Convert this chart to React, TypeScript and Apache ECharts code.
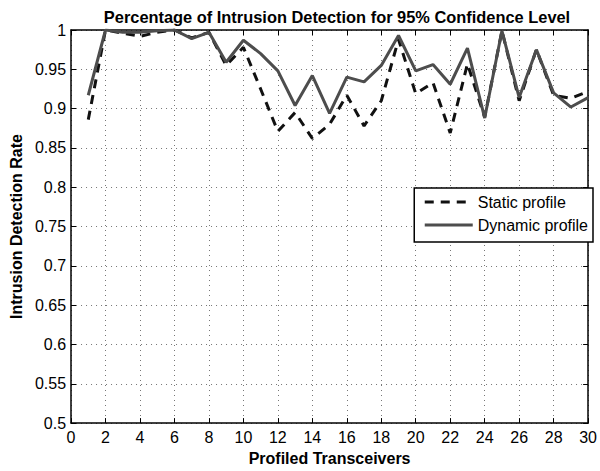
import React, { useEffect, useRef } from "react";
import * as echarts from "echarts";

const transceivers = [1,2,3,4,5,6,7,8,9,10,11,12,13,14,15,16,17,18,19,20,21,22,23,24,25,26,27,28,29,30];
const staticProfile = [0.886,1.0,0.996,0.992,0.997,1.0,0.99,0.997,0.955,0.978,0.925,0.871,0.895,0.862,0.88,0.917,0.878,0.91,0.988,0.919,0.933,0.869,0.957,0.889,0.999,0.91,0.975,0.917,0.913,0.922];
const dynamicProfile = [0.917,1.0,0.997,0.997,0.999,1.0,0.989,0.997,0.959,0.987,0.97,0.948,0.904,0.942,0.894,0.94,0.934,0.955,0.993,0.948,0.956,0.931,0.977,0.888,0.999,0.914,0.975,0.92,0.902,0.914];
const seriesNames = ["Static profile", "Dynamic profile"];
const titleText = "Percentage of Intrusion Detection for 95% Confidence Level";
const xName = "Profiled Transceivers";
const yName = "Intrusion Detection Rate";

const FONT = "'Liberation Sans', Arial, sans-serif";

export default function App() {
  const ref = useRef<HTMLDivElement>(null);
  useEffect(() => {
    if (!ref.current) return;
    const chart = echarts.init(ref.current, null, { renderer: "svg" });
    const gridLine = { show: true, lineStyle: { color: "#777", width: 1, type: [1, 4] as any } };
    const axisLine = { show: true, onZero: false, lineStyle: { color: "#000", width: 1.5 } };
    const axisTick = { show: true, inside: true, length: 5, lineStyle: { color: "#000", width: 1 } };
    const labelStyle = { color: "#000", fontSize: 16, fontFamily: FONT };
    chart.setOption({
      animation: false,
      backgroundColor: "#fff",
      title: {
        text: titleText,
        left: 332,
        textAlign: "center",
        top: 4,
        textStyle: { fontSize: 16.4, fontWeight: "bold", color: "#000", fontFamily: FONT },
      },
      grid: { left: 65, right: 7, top: 30, bottom: 41, containLabel: false },
      legend: {
        orient: "vertical",
        right: 7,
        top: 188,
        align: "left",
        data: seriesNames,
        backgroundColor: "#fff",
        borderColor: "#000",
        borderWidth: 1.5,
        borderRadius: 0,
        padding: [6, 5, 9, 9],
        itemWidth: 48,
        itemHeight: 14,
        itemGap: 7,
        itemStyle: { opacity: 0 },
        lineStyle: { width: 3 },
        textStyle: { fontSize: 16, color: "#000", fontFamily: FONT },
      },
      xAxis: [
        {
          type: "value",
          min: 0,
          max: 30,
          interval: 2,
          name: xName,
          nameLocation: "middle",
          nameGap: 26,
          nameTextStyle: { fontSize: 16, fontWeight: "bold", color: "#000", fontFamily: FONT },
          axisLine,
          axisTick,
          axisLabel: { ...labelStyle, margin: 6 },
          splitLine: gridLine,
        },
        {
          type: "value",
          position: "top",
          min: 0,
          max: 30,
          interval: 2,
          axisLine,
          axisTick,
          axisLabel: { show: false },
          splitLine: { show: false },
        },
      ],
      yAxis: [
        {
          type: "value",
          min: 0.5,
          max: 1,
          interval: 0.05,
          name: yName,
          nameLocation: "middle",
          nameGap: 47,
          nameTextStyle: { fontSize: 16, fontWeight: "bold", color: "#000", fontFamily: FONT },
          axisLine,
          axisTick,
          axisLabel: { ...labelStyle, margin: 5 },
          splitLine: gridLine,
        },
        {
          type: "value",
          position: "right",
          min: 0.5,
          max: 1,
          interval: 0.05,
          axisLine,
          axisTick,
          axisLabel: { show: false },
          splitLine: { show: false },
        },
      ],
      series: [
        {
          name: seriesNames[0],
          type: "line",
          data: transceivers.map((x, i) => [x, staticProfile[i]]),
          symbol: "none",
          lineStyle: { color: "#111", width: 3, type: [9, 7] as any },
          itemStyle: { color: "#111" },
          z: 2,
        },
        {
          name: seriesNames[1],
          type: "line",
          data: transceivers.map((x, i) => [x, dynamicProfile[i]]),
          symbol: "none",
          lineStyle: { color: "#4d4d4d", width: 3 },
          itemStyle: { color: "#4d4d4d" },
          z: 3,
        },
      ],
    });
    return () => chart.dispose();
  }, []);
  return <div ref={ref} style={{ position: "fixed", left: 0, top: 0, width: 600, height: 471 }} />;
}
